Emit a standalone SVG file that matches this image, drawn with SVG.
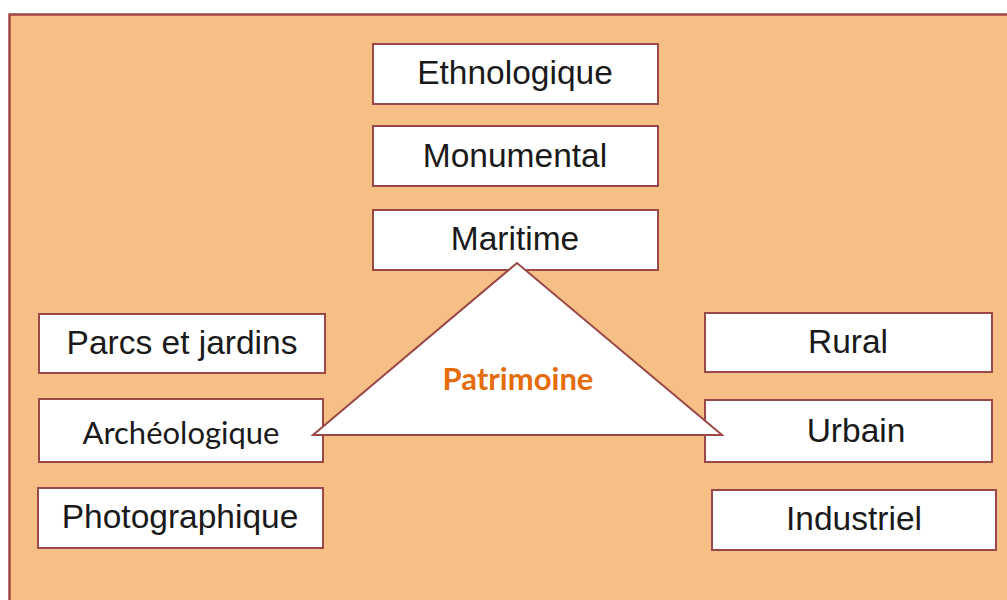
<svg xmlns="http://www.w3.org/2000/svg" width="1007" height="600" viewBox="0 0 1007 600">
<style>
.box{fill:#ffffff;stroke:#9a4848;stroke-width:2}
.t{font-family:"Liberation Sans",Arial,sans-serif;font-size:33.5px;fill:#1a1a1a;text-anchor:middle}
.c{font-family:Lato,"Open Sans",sans-serif;font-size:31px;fill:#1a1a1a;text-anchor:middle}
</style>
<rect x="9.5" y="14.5" width="1010" height="600" fill="#f6bf85" stroke="#a04545" stroke-width="2.5"/>
<g id="ethnologique"><rect class="box" x="373" y="44" width="285" height="60"/><text class="t" x="515" y="84">Ethnologique</text></g>
<g id="monumental"><rect class="box" x="373" y="126" width="285" height="60"/><text class="t" x="515" y="167">Monumental</text></g>
<g id="maritime"><rect class="box" x="373" y="210" width="285" height="60"/><text class="t" x="515" y="250">Maritime</text></g>
<g id="parcs"><rect class="box" x="39" y="314" width="286" height="59"/><text class="t" x="182" y="354">Parcs et jardins</text></g>
<g id="archeologique"><rect class="box" x="39" y="399" width="284" height="63"/><text class="c" x="181" y="444">Archéologique</text></g>
<g id="photographique"><rect class="box" x="38" y="488" width="285" height="60"/><text class="t" x="180" y="528">Photographique</text></g>
<g id="rural"><rect class="box" x="705" y="313" width="287" height="59"/><text class="t" x="848" y="353">Rural</text></g>
<g id="urbain"><rect class="box" x="705" y="400" width="287" height="62"/><text class="t" x="856" y="442">Urbain</text></g>
<g id="industriel"><rect class="box" x="712" y="490" width="284" height="60"/><text class="t" x="854" y="530">Industriel</text></g>
<g id="connectors"></g>
<g id="patrimoine"><polygon points="517,263 313,435 722,435" fill="#ffffff" stroke="#9a4848" stroke-width="2"/><text x="518" y="390" font-family="Lato,'Open Sans',sans-serif" font-weight="bold" font-size="31" fill="#e46c0a" text-anchor="middle">Patrimoine</text></g>
</svg>
